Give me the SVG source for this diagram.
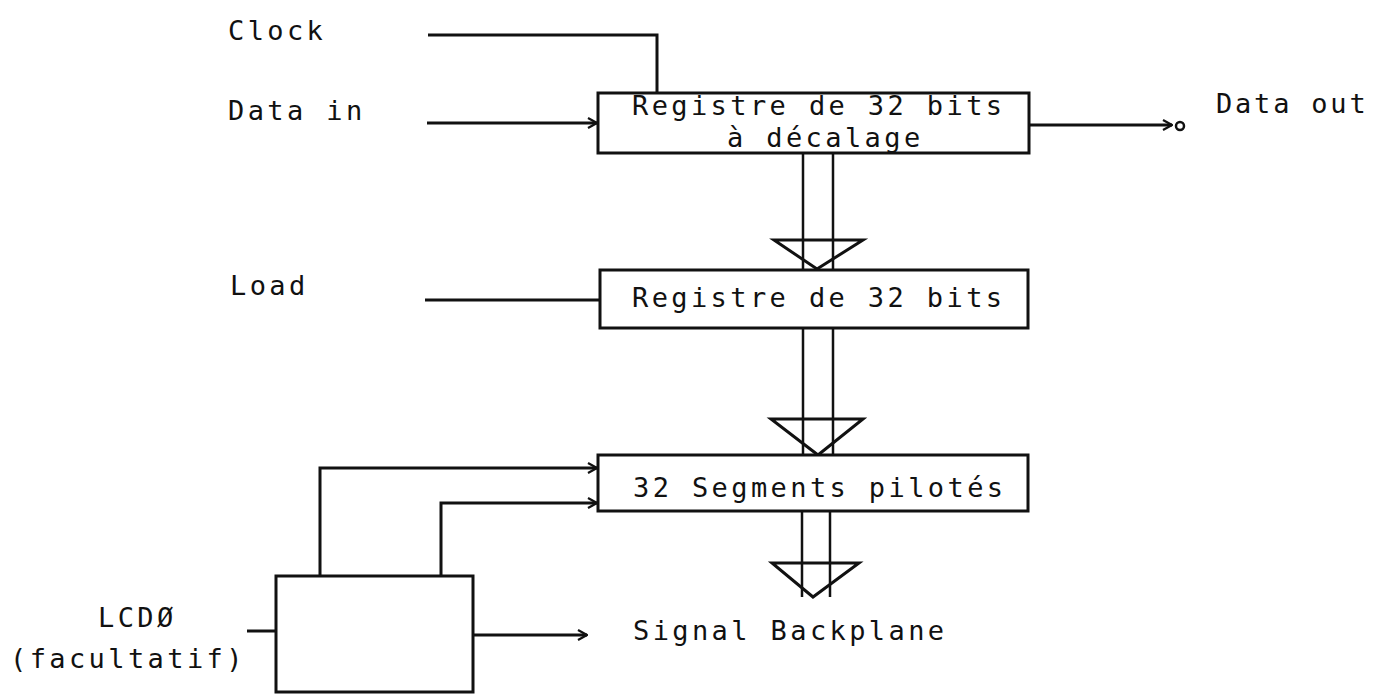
<svg xmlns="http://www.w3.org/2000/svg" width="1377" height="694" viewBox="0 0 1377 694">
<style>
.t{font-family:"DejaVu Sans Mono","Liberation Mono",monospace;font-size:27px;letter-spacing:3.4px;fill:#111}
.b{fill:#fff;stroke:#111;stroke-width:3}
.w{fill:none;stroke:#111;stroke-width:3;stroke-linejoin:miter}
.bus{fill:none;stroke:#111;stroke-width:2.5}
</style>
<defs>
<marker id="ah" viewBox="0 0 12 12" refX="11" refY="6" markerWidth="12" markerHeight="12" markerUnits="userSpaceOnUse" orient="auto">
<path d="M2,1 L11,6 L2,11" fill="none" stroke="#111" stroke-width="2.2"/>
</marker>
</defs>
<g id="connectors">
<path class="w" d="M428,35 H657 V93"/>
<path class="w" d="M427,123 H597" marker-end="url(#ah)"/>
<path class="w" d="M1030,125 H1172" marker-end="url(#ah)"/>
<circle cx="1180" cy="126" r="4" fill="none" stroke="#111" stroke-width="2.5"/>
<path class="w" d="M425,300 H600"/>
<path class="bus" d="M803,153 V270 M833,153 V270"/>
<path class="w" d="M774,240 H863 L817,269 Z"/>
<path class="bus" d="M803,328 V455 M833,328 V455"/>
<path class="w" d="M771,419 H863 L818,455 Z"/>
<path class="bus" d="M802,512 V597 M830,512 V597"/>
<path class="w" d="M772,563 H859 L813,597 Z"/>
<path class="w" d="M320,575 V468 H597" marker-end="url(#ah)"/>
<path class="w" d="M441,577 V503 H597" marker-end="url(#ah)"/>
<path class="w" d="M247,631 H276"/>
<path class="w" d="M473,635 H587" marker-end="url(#ah)"/>
</g>
<g id="shift-register">
<rect class="b" x="598" y="93" width="431" height="60"/>
<text class="t" x="632" y="115">Registre de 32 bits</text>
<text class="t" x="727" y="147">à décalage</text>
</g>
<g id="register">
<rect class="b" x="600" y="270" width="428" height="58"/>
<text class="t" x="632" y="307">Registre de 32 bits</text>
</g>
<g id="segments">
<rect class="b" x="598" y="455" width="430" height="56"/>
<text class="t" x="633" y="497">32 Segments pilotés</text>
</g>
<g id="lcd-block">
<rect class="b" x="276" y="576" width="197" height="116"/>
</g>
<g id="labels">
<text class="t" x="228" y="40">Clock</text>
<text class="t" x="228" y="120">Data in</text>
<text class="t" x="230" y="295">Load</text>
<text class="t" x="1216" y="113" style="letter-spacing:2.8px">Data out</text>
<text class="t" x="98" y="627">LCDØ</text>
<text class="t" x="10" y="668">(facultatif)</text>
<text class="t" x="633" y="640">Signal Backplane</text>
</g>
</svg>
